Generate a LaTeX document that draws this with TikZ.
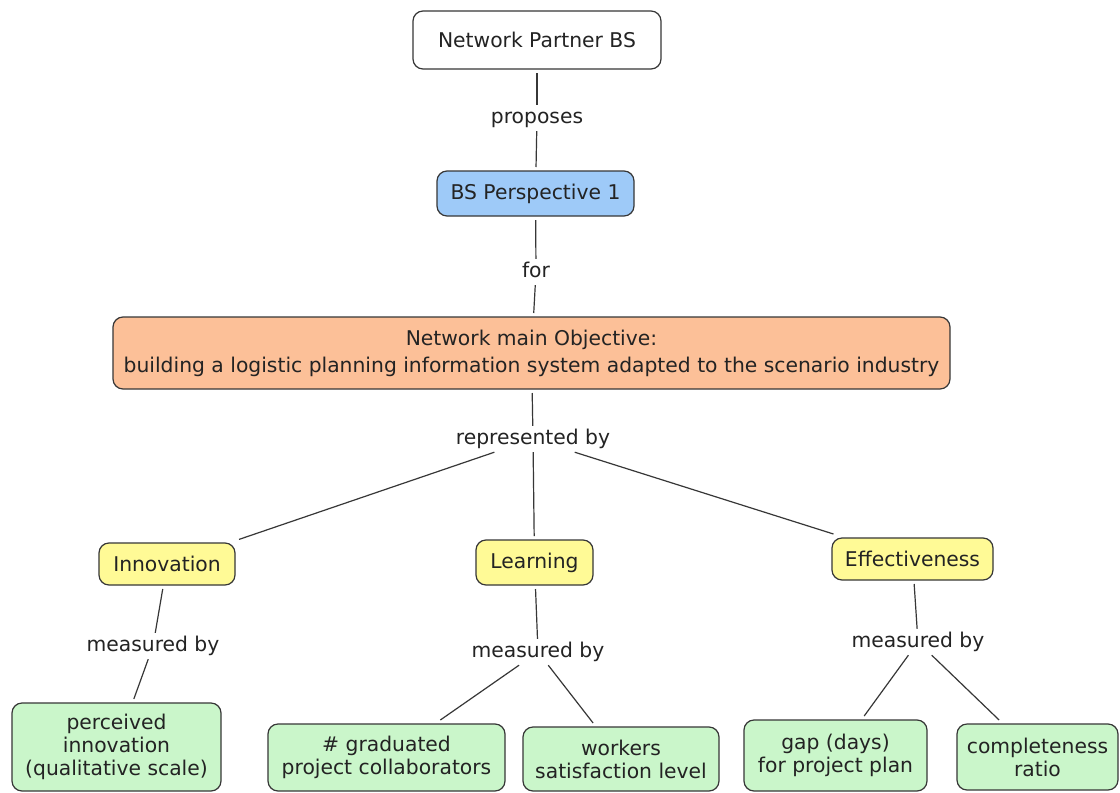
\documentclass[tikz,border=0pt]{standalone}
\usepackage{fontspec}
\setmainfont{DejaVu Sans}
\begin{document}
\definecolor{edgegray}{RGB}{55,55,55}
\definecolor{inkgray}{RGB}{35,35,35}
\definecolor{perspblue}{RGB}{158,202,248}
\definecolor{objorange}{RGB}{252,192,152}
\definecolor{dimyellow}{RGB}{255,250,150}
\definecolor{kpigreen}{RGB}{202,246,202}
\begin{tikzpicture}[x=1pt,y=-1pt,
  concept/.style={draw=edgegray, line width=1.2pt, rounded corners=10pt,
    align=center, text=inkgray, font=\fontsize{20.3}{23}\selectfont,
    inner sep=2pt, outer sep=4pt},
  linklabel/.style={text=inkgray, font=\fontsize{20.3}{23}\selectfont,
    text height=14pt, text depth=4pt, inner xsep=3pt, inner ysep=4pt},
  conn/.style={draw=edgegray, line width=1.2pt}]
  \useasboundingbox (0,0) rectangle (1120,793);
  \fill[white] (0,0) rectangle (1120,793);

  % concepts
  \node[concept, fill=white, minimum width=248pt, minimum height=58pt]
    (partner) at (537,40) {Network Partner BS};
  \node[concept, fill=perspblue, minimum width=197pt, minimum height=45pt]
    (persp) at (535.5,193.5) {BS Perspective 1};
  \node[concept, fill=objorange, minimum width=837pt, minimum height=72pt,
    font=\fontsize{20.3}{27}\selectfont]
    (objective) at (531.5,353) {Network main Objective:\\building a logistic planning information system adapted to the scenario industry};
  \node[concept, fill=dimyellow, minimum width=136pt, minimum height=42pt]
    (innov) at (167,564) {Innovation};
  \node[concept, fill=dimyellow, minimum width=117pt, minimum height=45pt]
    (learn) at (534.5,562.5) {Learning};
  \node[concept, fill=dimyellow, minimum width=161pt, minimum height=42pt]
    (effect) at (912.5,559) {Effectiveness};
  \node[concept, fill=kpigreen, minimum width=209pt, minimum height=88pt]
    (perceived) at (116.5,747) {perceived\\innovation\\(qualitative scale)};
  \node[concept, fill=kpigreen, minimum width=237pt, minimum height=67pt]
    (graduated) at (386.5,757.5) {\# graduated\\project collaborators};
  \node[concept, fill=kpigreen, minimum width=196pt, minimum height=64pt]
    (workers) at (621,759) {workers\\satisfaction level};
  \node[concept, fill=kpigreen, minimum width=183pt, minimum height=71pt]
    (gapdays) at (835.5,755.5) {gap (days)\\for project plan};
  \node[concept, fill=kpigreen, minimum width=161pt, minimum height=66pt]
    (complete) at (1037.5,757) {completeness\\ratio};

  % linking phrases
  \node[linklabel] (proposes) at (537,118) {proposes};
  \node[linklabel] (for) at (536,272) {for};
  \node[linklabel] (repr) at (533,439) {represented by};
  \node[linklabel] (measA) at (153,646) {measured by};
  \node[linklabel] (measB) at (538,652) {measured by};
  \node[linklabel] (measC) at (918,642) {measured by};

  % connectors
  \draw[conn] (partner) -- (proposes);
  \draw[conn] (proposes) -- (persp);
  \draw[conn] (persp) -- (for);
  \draw[conn] (for) -- (objective);
  \draw[conn] (objective) -- (repr);
  \draw[conn] (repr) -- (innov);
  \draw[conn] (repr) -- (learn);
  \draw[conn] (repr) -- (effect);
  \draw[conn] (innov) -- (measA);
  \draw[conn] (measA) -- (perceived);
  \draw[conn] (learn) -- (measB);
  \draw[conn] (measB) -- (graduated);
  \draw[conn] (measB) -- (workers);
  \draw[conn] (effect) -- (measC);
  \draw[conn] (measC) -- (gapdays);
  \draw[conn] (measC) -- (complete);
\end{tikzpicture}
\end{document}
